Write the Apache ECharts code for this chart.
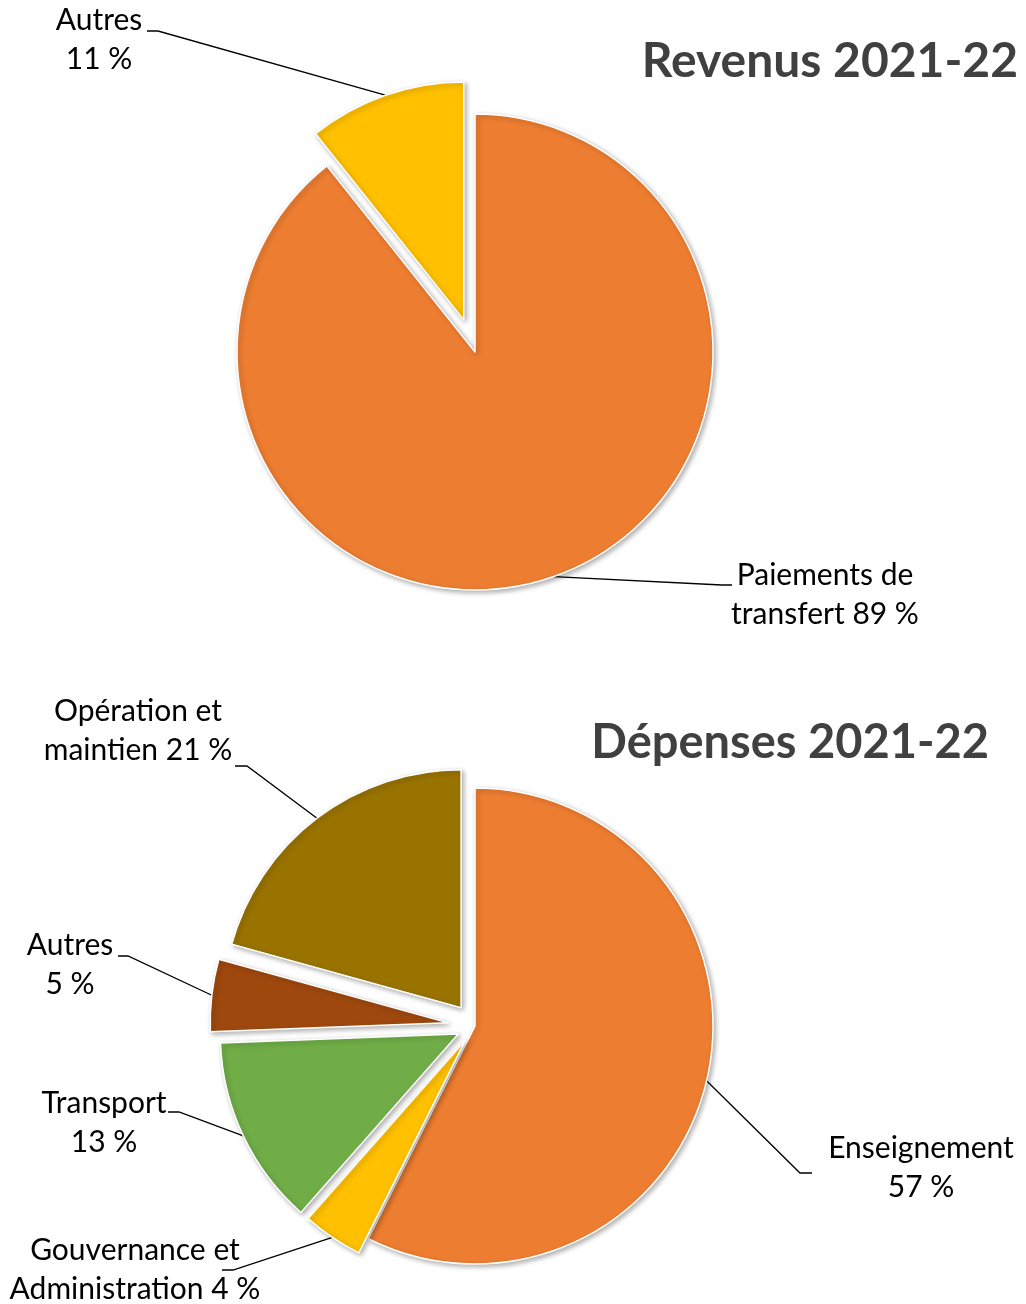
<!DOCTYPE html>
<html>
<head>
<meta charset="utf-8">
<script src="https://cdn.jsdelivr.net/npm/echarts@6/dist/echarts.min.js"></script>
<style>
  html, body { margin: 0; padding: 0; background: #fff; }
  #chart { width: 1026px; height: 1304px; }
</style>
</head>
<body>
<div id="chart"></div>
<script>
// ---- Data (shares in %; labels show rounded values) ----
const TITLES = ['Revenus 2021-22', 'Dépenses 2021-22'];
const TOP_CATEGORIES = ['Paiements de\ntransfert', 'Autres'];
const TOP_VALUES = [89.3, 10.7];
const BOTTOM_CATEGORIES = ['Enseignement', 'Gouvernance et\nAdministration', 'Transport', 'Autres', 'Opération et\nmaintien'];
const BOTTOM_VALUES = [57.4, 4.1, 12.9, 4.9, 20.7];

// ---- Layout / style ----
const FONT = 'Lato, "Open Sans", sans-serif';
const PIES = [
  {
    cats: TOP_CATEGORIES, vals: TOP_VALUES,
    cx: 475, cy: 352, r: 238,
    colors: ['#ED7D31', '#FFC000'],
    explode: [0, 34],
    labels: [
      { x: 825, y: 595, kx: 722, ky: 585, ex: 732, ey: 585 },
      { x: 99, y: 40, kx: 158, ky: 31, ex: 147, ey: 31 }
    ]
  },
  {
    cats: BOTTOM_CATEGORIES, vals: BOTTOM_VALUES,
    cx: 475, cy: 1026, r: 238,
    colors: ['#ED7D31', '#FFC000', '#70AD47', '#9E480E', '#997300'],
    explode: [0, 17, 18.5, 27, 23],
    labels: [
      { x: 921, y: 1168, kx: 800, ky: 1173, ex: 812, ey: 1173 },
      { x: 135, y: 1270, kx: 233, ky: 1270, ex: 222, ey: 1270 },
      { x: 104, y: 1123, kx: 179, ky: 1112, ex: 168, ey: 1112 },
      { x: 70, y: 965, kx: 128, ky: 956, ex: 118, ey: 956 },
      { x: 138, y: 731, kx: 247, ky: 766, ex: 235, ey: 766 }
    ]
  }
];
const TITLE_STYLE = [
  { right: 8, top: 38, size: 48 },
  { right: 37, top: 719, size: 47 }
];

const chart = echarts.init(document.getElementById('chart'), null, { renderer: 'canvas' });

const series = [];
PIES.forEach(function (pie) {
  const total = pie.vals.reduce(function (a, b) { return a + b; }, 0);
  let cum = 0;
  pie.vals.forEach(function (v, i) {
    const mid = (cum + v / 2) / total * 2 * Math.PI;
    cum += v;
    const d = pie.explode[i];
    const center = [pie.cx + d * Math.sin(mid), pie.cy - d * Math.cos(mid)];
    const L = pie.labels[i];
    series.push({
      type: 'pie',
      center: center,
      radius: pie.r,
      startAngle: 90,
      clockwise: true,
      avoidLabelOverlap: false,
      silent: true,
      animation: false,
      emphasis: { disabled: true },
      data: pie.vals.map(function (vv, j) {
        const on = j === i;
        return {
          name: pie.cats[j],
          value: vv,
          itemStyle: on ? {
            color: pie.colors[j], borderColor: '#fff', borderWidth: 1.5,
            shadowBlur: 5, shadowColor: 'rgba(0,0,0,0.3)', shadowOffsetX: 2, shadowOffsetY: 2
          } : {
            color: 'rgba(0,0,0,0)', borderWidth: 0, shadowBlur: 0, shadowColor: 'rgba(0,0,0,0)'
          },
          label: { show: on },
          labelLine: { show: on }
        };
      }),
      label: {
        position: 'outside',
        formatter: function (p) {
          return p.name + (p.name.indexOf('\n') >= 0 ? ' ' : '\n') + Math.round(p.value) + ' %';
        },
        fontFamily: FONT,
        fontSize: 30,
        lineHeight: 39,
        color: '#000',
        overflow: 'none'
      },
      labelLine: { length: 10, length2: 10, lineStyle: { color: '#000', width: 1.3 } },
      labelLayout: function (params) {
        const res = { x: L.x, y: L.y, align: 'center', verticalAlign: 'middle' };
        if (params.labelLinePoints && params.labelLinePoints[0]) {
          res.labelLinePoints = [params.labelLinePoints[0], [L.kx, L.ky], [L.ex, L.ey]];
        }
        return res;
      }
    });
  });
});

const option = {
  animation: false,
  backgroundColor: '#fff',
  title: TITLES.map(function (t, k) {
    const s = TITLE_STYLE[k];
    return {
      text: t,
      right: s.right,
      top: s.top,
      padding: 0,
      textStyle: { fontFamily: FONT, fontSize: s.size, fontWeight: 'bold', color: '#404040', lineHeight: s.size }
    };
  }),
  series: series
};
chart.setOption(option);
</script>
</body>
</html>
